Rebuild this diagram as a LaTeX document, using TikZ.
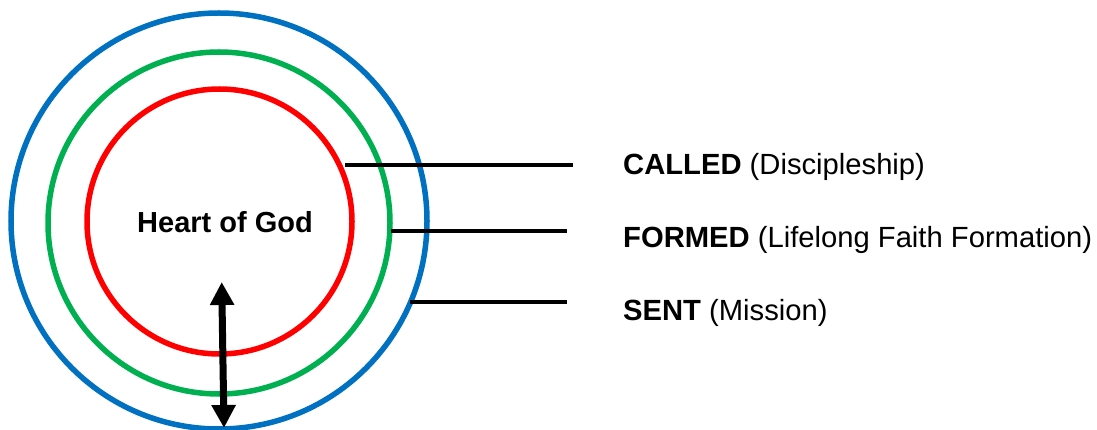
\documentclass[tikz,border=0pt]{standalone}
\usepackage{fontspec}
\setmainfont{Liberation Sans}
\usetikzlibrary{arrows.meta}
\definecolor{cblue}{HTML}{0070C0}
\definecolor{cgreen}{HTML}{00B050}
\definecolor{cred}{HTML}{FF0000}
\begin{document}
\begin{tikzpicture}[x=1pt,y=-1pt,
  ring/.style={circle, draw=#1, line width=5.5pt, inner sep=0pt, outer sep=0pt},
  leader/.style={draw=black, line width=3.2pt},
  lbl/.style={anchor=base west, inner sep=0pt, font=\fontsize{29.2}{34}\selectfont},
  dblarrow/.style={line width=7pt, {Triangle[width=23pt,length=23pt]}-{Triangle[width=23pt,length=23pt]}}]
\useasboundingbox (0,0) rectangle (1097,430);
\node[ring=cblue, minimum size=416pt] (blue) at (219,221) {};
\node[ring=cgreen, minimum size=342pt] (green) at (219,223) {};
\node[ring=cred, minimum size=265pt] (red) at (219.5,221.5) {};
\node[font=\bfseries\fontsize{29}{34}\selectfont, inner sep=0pt] (heart) at (225,222) {Heart of God};
\coordinate (c1) at (345,165); \coordinate (c2) at (573,165);
\coordinate (f1) at (391,231); \coordinate (f2) at (567,231);
\coordinate (s1) at (410,302); \coordinate (s2) at (567,302);
\draw[leader] (c1) -- (c2);
\draw[leader] (f1) -- (f2);
\draw[leader] (s1) -- (s2);
\node[lbl] (called) at (623,175) {\textbf{CALLED} (Discipleship)};
\node[lbl] (formed) at (623,248) {\textbf{FORMED} (Lifelong Faith Formation)};
\node[lbl] (sent) at (623,320) {\textbf{SENT} (Mission)};
\coordinate (at) at (221.7,282);
\coordinate (ab) at (224,428);
\draw[dblarrow] (at) -- (ab);
\end{tikzpicture}
\end{document}
